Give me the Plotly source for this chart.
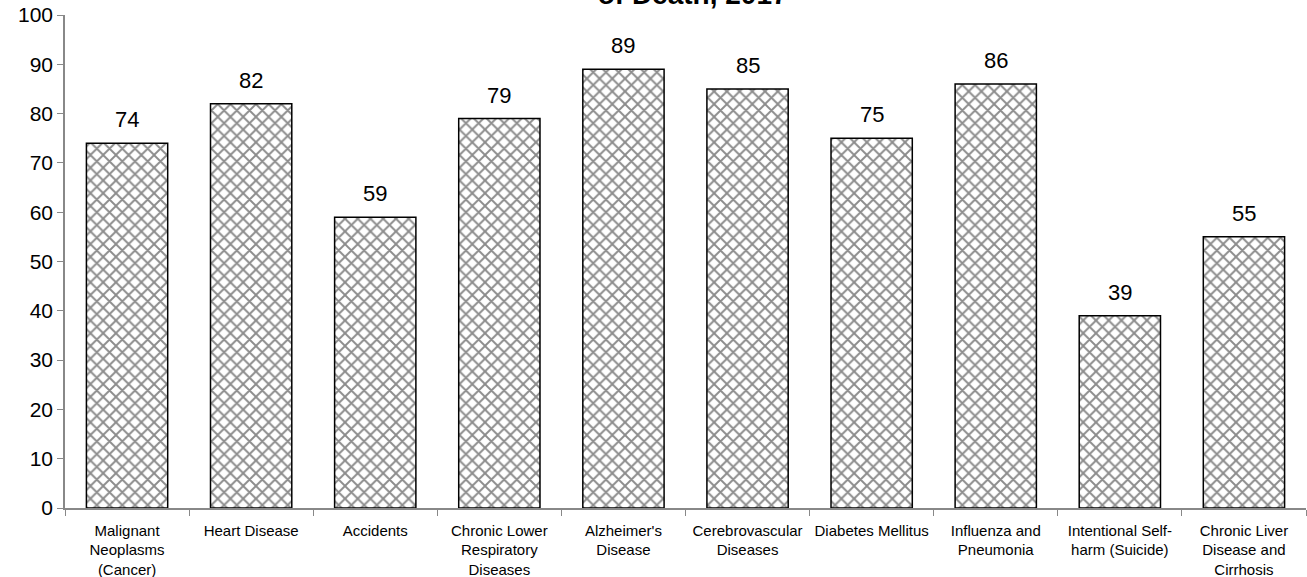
import plotly.graph_objects as go

categories = [
    "Malignant<br>Neoplasms<br>(Cancer)",
    "Heart Disease",
    "Accidents",
    "Chronic Lower<br>Respiratory<br>Diseases",
    "Alzheimer's<br>Disease",
    "Cerebrovascular<br>Diseases",
    "Diabetes Mellitus",
    "Influenza and<br>Pneumonia",
    "Intentional Self-<br>harm (Suicide)",
    "Chronic Liver<br>Disease and<br>Cirrhosis",
]
values = [74, 82, 59, 79, 89, 85, 75, 86, 39, 55]
y_ticks = [0, 10, 20, 30, 40, 50, 60, 70, 80, 90, 100]
title_text = "Median Age at Death for the Ten Leading Causes<br>of Death, 2017"

FONT = "Arial, Liberation Sans, sans-serif"

fig = go.Figure()
fig.add_trace(go.Bar(
    x=categories,
    y=values,
    cliponaxis=False,
    marker=dict(
        color="white",
        line=dict(color="#000", width=1.5),
        pattern=dict(shape="x", size=9, solidity=0.38, fgcolor="#1a1a1a", bgcolor="white"),
    ),
))

annotations = [dict(
    text="<b>" + title_text + "</b>",
    xref="paper", yref="paper", x=0.5, y=1.0, xshift=7, yshift=3,
    xanchor="center", yanchor="bottom", showarrow=False,
    font=dict(size=28, family=FONT, color="#000"),
)]
for c, v in zip(categories, values):
    annotations.append(dict(
        x=c, y=v, xref="x", yref="y", text=str(v), showarrow=False,
        xanchor="center", yanchor="bottom", yshift=9,
        font=dict(size=22, family=FONT, color="#000"),
    ))

fig.update_layout(
    width=1307, height=577,
    margin=dict(l=65, r=1, t=15, b=69, autoexpand=False),
    paper_bgcolor="white", plot_bgcolor="white",
    bargap=0.345,
    showlegend=False,
    font=dict(family=FONT, color="#000"),
    annotations=annotations,
)
fig.update_xaxes(
    showline=True, linecolor="#888", linewidth=1.5,
    ticks="outside", ticklen=6, tickcolor="#888", tickson="boundaries",
    tickangle=0, automargin=False, ticklabelstandoff=8,
    tickfont=dict(size=15, family=FONT, color="#000"),
    showgrid=False,
)
fig.update_yaxes(
    range=[0, 100], tickvals=y_ticks, automargin=False,
    showline=True, linecolor="#888", linewidth=1.5,
    ticks="outside", ticklen=6, tickcolor="#888",
    tickfont=dict(size=21, family=FONT, color="#000"),
    showgrid=False, zeroline=False,
)

fig.write_html("out.html")
